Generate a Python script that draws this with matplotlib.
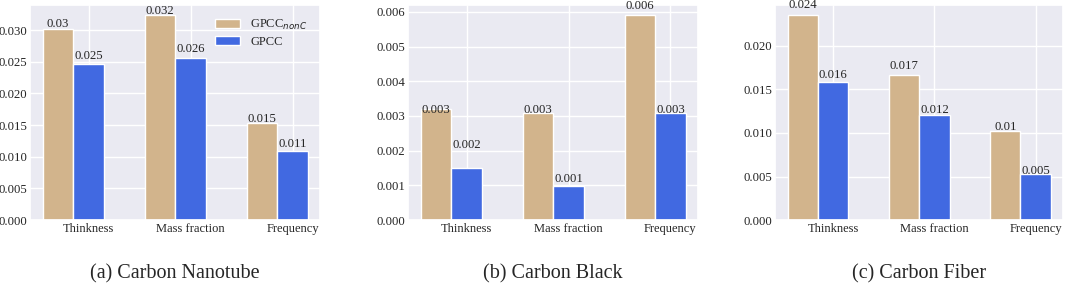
import matplotlib
matplotlib.use('Agg')
import matplotlib.pyplot as plt
import seaborn as sns
import numpy as np

sns.set_theme(style='darkgrid')
plt.rcParams['font.family'] = ['Liberation Serif', 'DejaVu Serif']
plt.rcParams['mathtext.fontset'] = 'dejavusans'

features = ['Thinkness', 'Mass fraction', 'Frequency']
series_names = [r'GPCC$_{nonC}$', 'GPCC']

# carbon nanotube
cnt_nonc = [0.0302, 0.0323, 0.0153]
cnt_gpcc = [0.0246, 0.0256, 0.0109]
# carbon black
cb_nonc = [0.00319, 0.00308, 0.00591]
cb_gpcc = [0.00151, 0.00098, 0.00308]
# carbon fiber
cf_nonc = [0.02356, 0.01667, 0.0102]
cf_gpcc = [0.0159, 0.01203, 0.00529]

captions = ['(a) Carbon Nanotube', '(b) Carbon Black', '(c) Carbon Fiber']


def autolabel(rects, vals, ax):
    # label sits on the rounded value, not on the bar top
    for rect, v in zip(rects, vals):
        r = round(v, 3)
        ax.text(rect.get_x() + rect.get_width() / 2., r, '%s' % r,
                ha='center', va='bottom', fontsize=9.2)


def barplot(ax, nonc, gpcc, ymax, ticks, legend=False):
    width = 0.3
    x = np.arange(len(features))
    r1 = ax.bar(x, nonc, width, color='tan', label=series_names[0])
    r2 = ax.bar(x + width, gpcc, width, color='royalblue', label=series_names[1])
    autolabel(r1, nonc, ax)
    autolabel(r2, gpcc, ax)
    ax.set_xticks(x + width)
    ax.set_xticklabels(features, fontsize=9)
    ax.set_yticks(ticks)
    ax.set_yticklabels(['%.3f' % t for t in ticks], fontsize=9.2)
    ax.tick_params(axis='both', length=0, pad=2)
    ax.set_xlim(-0.275, 2.57)
    ax.set_ylim(0, ymax)
    if legend:
        ax.legend(loc='upper right', frameon=False, fontsize=9,
                  handlelength=2.0, handleheight=0.7, labelspacing=0.35,
                  borderaxespad=0.6)


fig = plt.figure(figsize=(10.65, 2.83), dpi=100)
ax1 = fig.add_axes([0.0282, 0.2226, 0.2723, 0.7597])
ax2 = fig.add_axes([0.3831, 0.2226, 0.2723, 0.7597])
ax3 = fig.add_axes([0.7277, 0.2226, 0.2704, 0.7597])

barplot(ax1, cnt_nonc, cnt_gpcc, 0.03395, np.arange(0, 0.0301, 0.005), legend=True)
barplot(ax2, cb_nonc, cb_gpcc, 0.0062, np.arange(0, 0.00601, 0.001))
barplot(ax3, cf_nonc, cf_gpcc, 0.02471, np.arange(0, 0.0201, 0.005))

for ax, cap in zip([ax1, ax2, ax3], captions):
    pos = ax.get_position()
    fig.text(pos.x0 + pos.width / 2, 1 - 274 / 283., cap, ha='center', va='center',
             fontsize=14.5)

fig.savefig('out.png', dpi=100)
